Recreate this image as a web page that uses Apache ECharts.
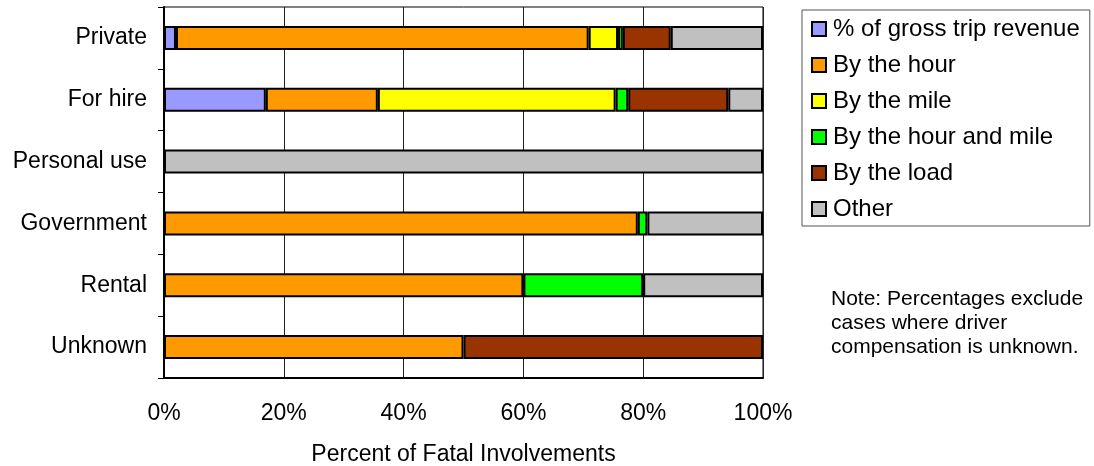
<!DOCTYPE html>
<html><head><meta charset="utf-8">
<script src="https://cdn.jsdelivr.net/npm/echarts@6/dist/echarts.min.js"></script>
<style>html,body{margin:0;padding:0;background:#fff}#c{width:1094px;height:466px}</style>
</head><body><div id="c"></div>
<script>
const categories = ['Private','For hire','Personal use','Government','Rental','Unknown'];
const seriesNames = ['% of gross trip revenue','By the hour','By the mile','By the hour and mile','By the load','Other'];
const grossRevenue = [2.0, 17.0, 0, 0, 0, 0];
const byHour       = [68.9, 18.7, 0, 79.1, 60.0, 50.0];
const byMile       = [4.9, 39.7, 0, 0, 0, 0];
const byHourMile   = [0.8, 2.1, 0, 1.6, 20.0, 0];
const byLoad       = [8.0, 16.7, 0, 0, 0, 50.0];
const other        = [15.4, 5.8, 100, 19.3, 20.0, 0];
const xTicks = [0, 20, 40, 60, 80, 100];
const colors = ['#9999FF','#FF9900','#FFFF00','#00FF00','#993300','#C0C0C0'];
const allData = [grossRevenue, byHour, byMile, byHourMile, byLoad, other];
const font = 'Liberation Sans, Arial, sans-serif';

const chart = echarts.init(document.getElementById('c'));
chart.setOption({
  animation: false,
  textStyle: {fontFamily: font, color: '#000'},
  grid: {left: 164, right: 331, top: 7, bottom: 88, outerBoundsMode: 'none', containLabel: false,
         show: true, borderColor: '#000', borderWidth: 1, backgroundColor: 'transparent'},
  legend: {
    orient: 'vertical', left: 802, top: 10,
    padding: [7, 10, 5, 9],
    itemGap: 12, itemWidth: 14, itemHeight: 14,
    borderColor: '#555', borderWidth: 1,
    icon: 'rect',
    textStyle: {fontSize: 24, fontFamily: font, color: '#000', padding: [0, 0, 0, 2]},
    data: seriesNames
  },
  xAxis: {
    type: 'value', min: xTicks[0], max: xTicks[xTicks.length - 1], interval: 20,
    axisLine: {show: true, lineStyle: {color: '#000', width: 2}},
    axisTick: {show: false},
    axisLabel: {formatter: '{value}%', fontSize: 23, color: '#000', margin: 24, fontFamily: font},
    splitLine: {show: true, lineStyle: {color: '#222', width: 1}},
    name: 'Percent of Fatal Involvements', nameLocation: 'middle', nameGap: 65,
    nameTextStyle: {fontSize: 23, color: '#000', fontFamily: font}
  },
  yAxis: {
    type: 'category', data: categories, inverse: true,
    axisLine: {show: true, lineStyle: {color: '#000', width: 2}},
    axisTick: {show: true, length: 6, lineStyle: {color: '#000'}},
    axisLabel: {fontSize: 23, color: '#000', margin: 17, fontFamily: font},
    splitLine: {show: false}
  },
  series: seriesNames.map((n, i) => ({
    name: n, type: 'bar', stack: 'total', barWidth: 24,
    itemStyle: {color: colors[i], borderColor: '#000', borderWidth: 2},
    data: allData[i].map(v => v === 0 ? '-' : v)
  })),
  graphic: [{
    type: 'text', left: 831, top: 287,
    style: {text: 'Note: Percentages exclude\ncases where driver\ncompensation is unknown.', fontSize: 21, lineHeight: 24, fill: '#000', fontFamily: font}
  }]
});
</script></body></html>
